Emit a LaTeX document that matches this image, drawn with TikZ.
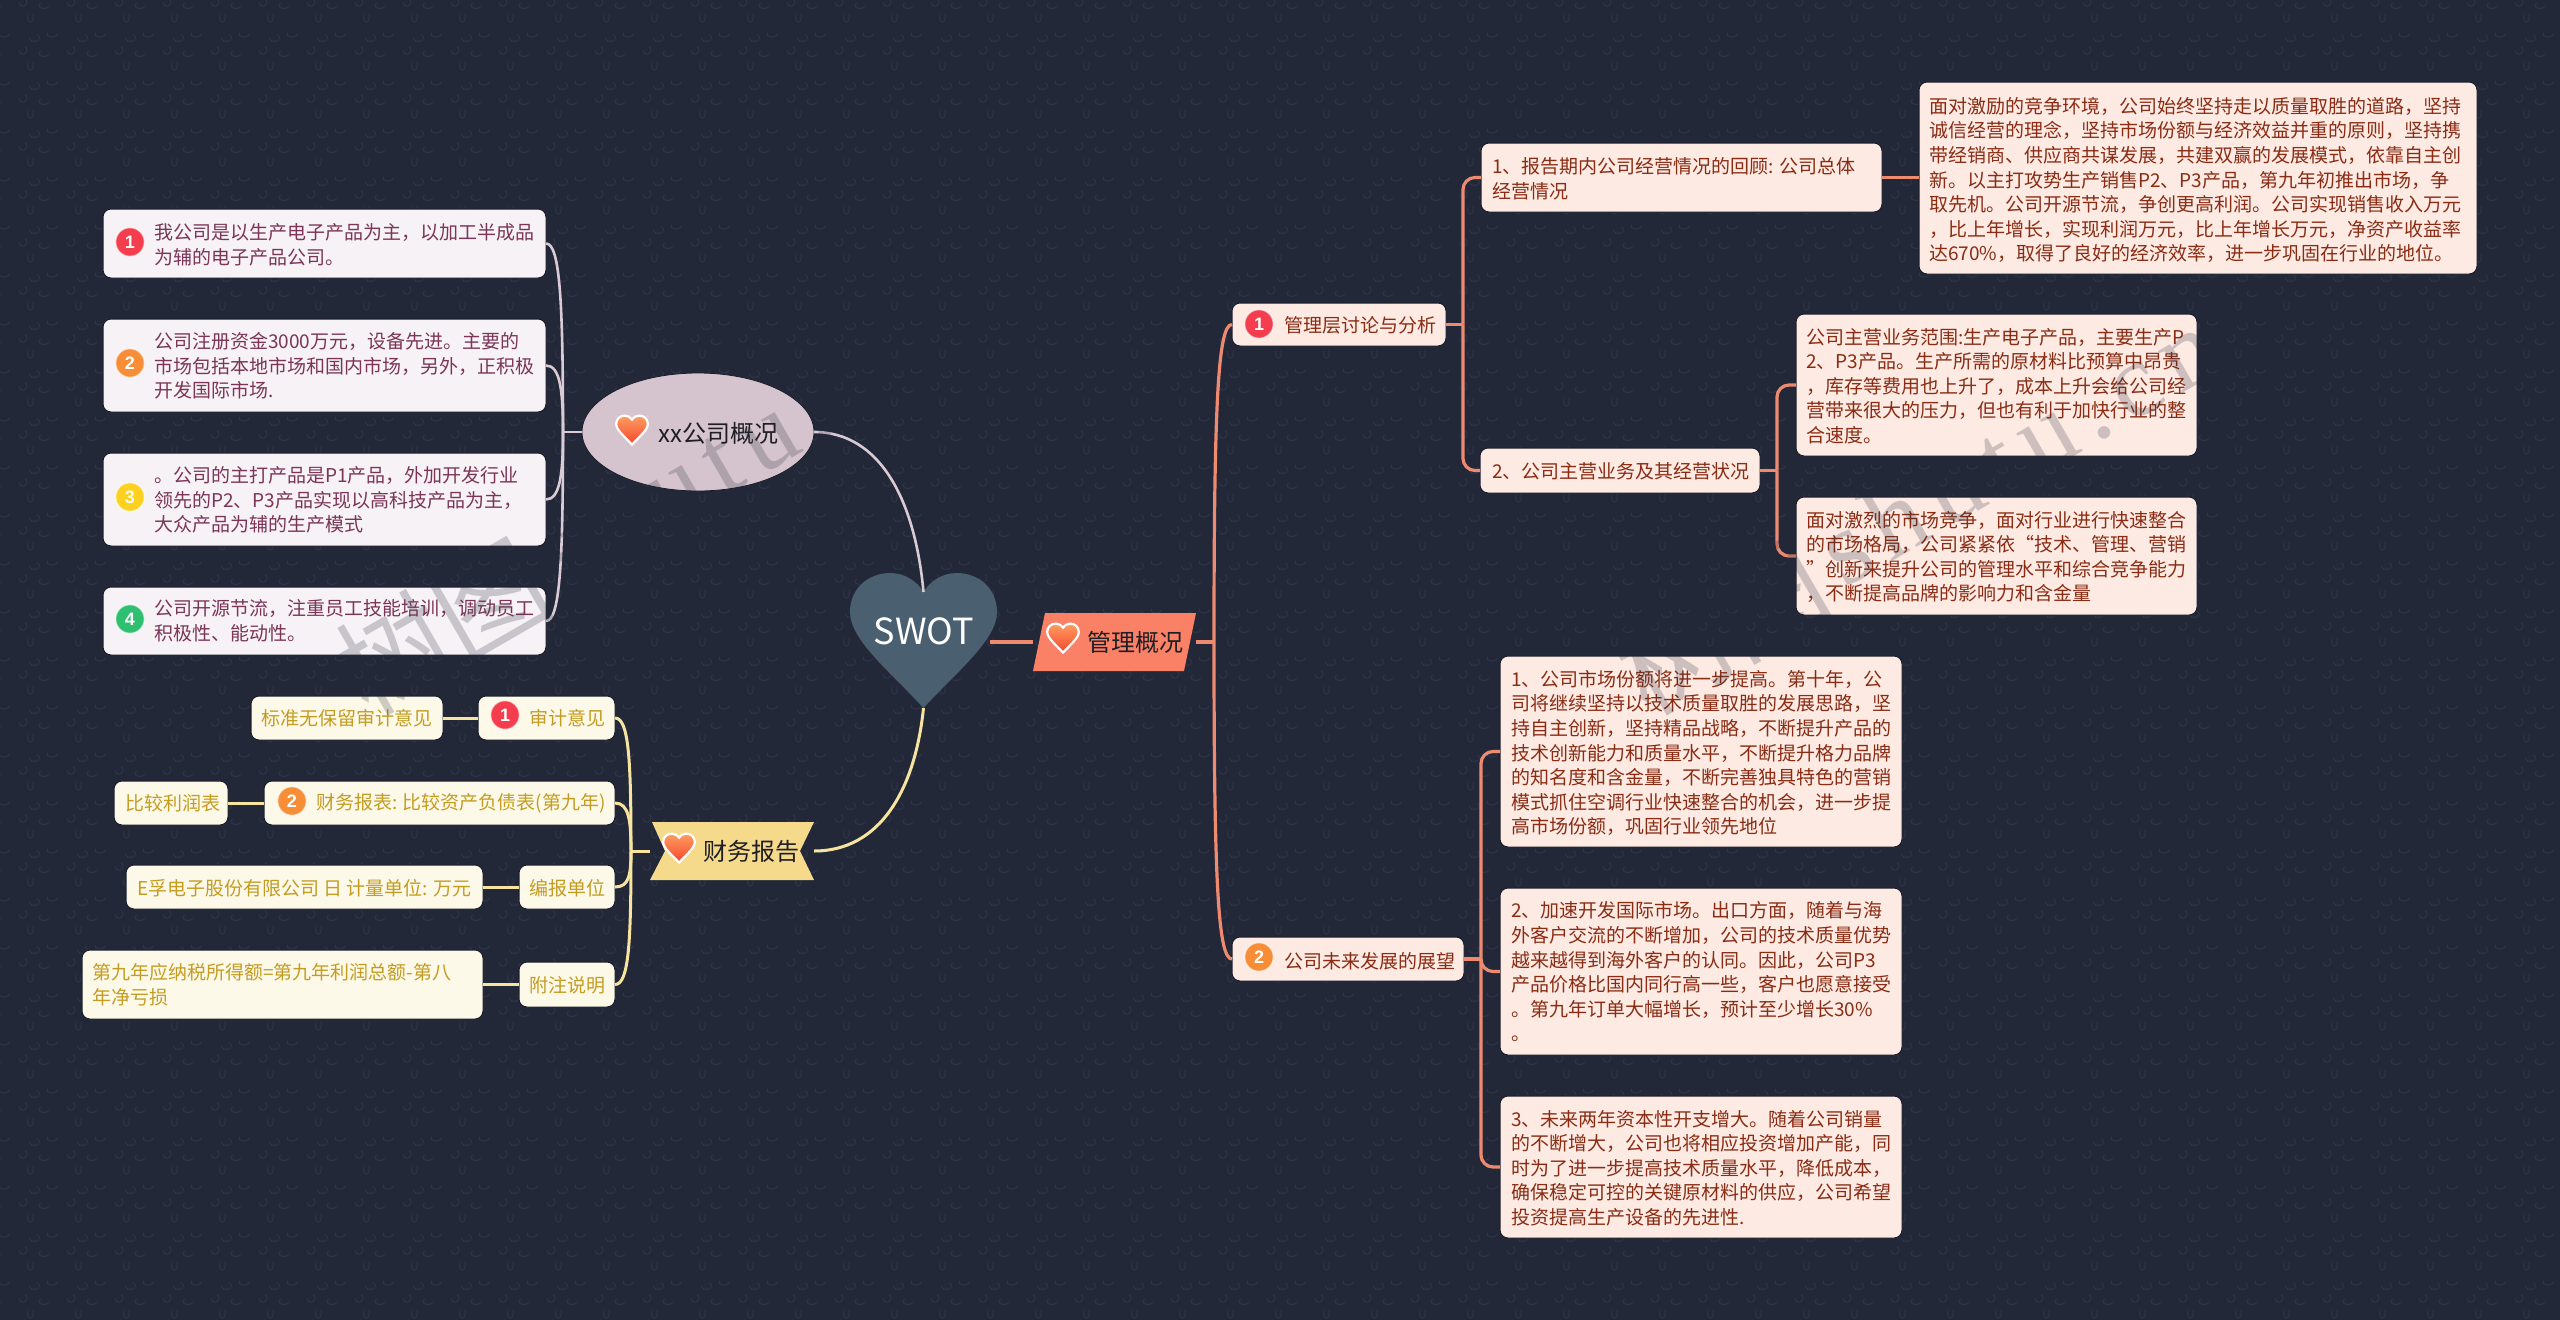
\documentclass[tikz,border=0pt]{standalone}
\usepackage{fontspec}
\setmainfont{Noto Sans CJK SC}
\newfontfamily\numfont{Liberation Sans}
\newfontfamily\wmfont[LetterSpace=12]{Liberation Serif}
\usetikzlibrary{shapes.geometric,calc}
\definecolor{bgc}{HTML}{232839}
\definecolor{bgm}{HTML}{2E3447}
\definecolor{edgec}{HTML}{191C2A}
\definecolor{lbox}{HTML}{F6F2F5}
\definecolor{ltxt}{HTML}{7C3558}
\definecolor{lline}{HTML}{D9CAD3}
\definecolor{lmain}{HTML}{D5C4CD}
\definecolor{fbox}{HTML}{FDF9E8}
\definecolor{ftxt}{HTML}{C49C22}
\definecolor{fline}{HTML}{F6E4A0}
\definecolor{fmain}{HTML}{F5DA8C}
\definecolor{rbox}{HTML}{FDEAE3}
\definecolor{rtxt}{HTML}{8A2C14}
\definecolor{rline}{HTML}{EE8A70}
\definecolor{rmain}{HTML}{FB8166}
\definecolor{corec}{HTML}{4A5F6F}
\definecolor{darktxt}{HTML}{1E1E24}
\definecolor{nred}{HTML}{F43E4E}
\definecolor{norange}{HTML}{F78D36}
\definecolor{nyellow}{HTML}{FCD11F}
\definecolor{ngreen}{HTML}{2FBF71}
\definecolor{htop}{HTML}{FF9E62}
\definecolor{hbot}{HTML}{F5452C}
\tikzset{
  boxbase/.style={rectangle,rounded corners=8pt,draw=edgec,line width=1pt,inner sep=0pt,outer sep=0pt},
  lb/.style={boxbase,fill=lbox},
  fb/.style={boxbase,fill=fbox},
  rb/.style={boxbase,fill=rbox},
  tx/.style={anchor=west,inner sep=0pt,outer sep=0pt,align=left,font=\fontsize{19}{24.6}\selectfont},
  ltx/.style={tx,text=ltxt},
  ftx/.style={tx,text=ftxt},
  rtx/.style={tx,text=rtxt},
  maintx/.style={anchor=west,inner sep=0pt,font=\fontsize{24}{28}\selectfont,text=darktxt},
  ll/.style={draw=lline,line width=2.6pt},
  fl/.style={draw=fline,line width=3pt},
  rl/.style={draw=rline,line width=3.2pt},
  numc/.style={circle,minimum size=29pt,inner sep=0pt,draw=white,draw opacity=.65,line width=1.6pt,text=white,font=\numfont\bfseries\fontsize{18}{18}\selectfont},
  wm/.style={rotate=30,anchor=base west,inner sep=0pt,text=bgc,text opacity=.22},
}
\newcommand{\bx}[6]{\node[#6,minimum width={#4-#2},minimum height={#5-#3}] (#1) at ({(#2+#4)/2},{(#3+#5)/2}) {};}
\newcommand{\heartpath}{(0,68) .. controls (-33,32) and (-73.5,0) .. (-73.5,-28) .. controls (-73.5,-52) and (-55,-67) .. (-33,-67) .. controls (-18,-67) and (-6,-58) .. (0,-48) .. controls (6,-58) and (18,-67) .. (33,-67) .. controls (55,-67) and (73.5,-52) .. (73.5,-28) .. controls (73.5,0) and (33,32) .. (0,68) -- cycle}
\newcommand{\iconheart}[2]{\begin{scope}[shift={(#1,#2)},scale=.215]\path[draw=white,line width=2.2pt,top color=htop,bottom color=hbot] \heartpath;\end{scope}}
\newcommand{\cv}[4]{\draw[#1] (#2.east) .. controls +(14,0) and +(0,#4) .. (#3);}
\begin{document}
\begin{tikzpicture}[x=1pt,y=-1pt]
\useasboundingbox (0,0) rectangle (2560,1320);
\fill[bgc] (0,0) rectangle (2560,1320);
% background texture
\foreach \i in {-1,...,53}{\foreach \j in {-1,...,27}{
  \draw[bgm,line width=1.1pt]
    ({\i*48+33},{\j*48+14}) arc[start angle=-30,end angle=200,x radius=3,y radius=5.5]
    ({\i*48+9},{\j*48+34}) arc[start angle=0,end angle=200,x radius=5,y radius=3]
    ({\i*48+37},{\j*48+35}) arc[start angle=-60,end angle=180,x radius=5,y radius=3.5]
    ({\i*48+25},{\j*48+46}) arc[start angle=-60,end angle=170,x radius=4,y radius=4.5]
    ({\i*48+49},{\j*48+54}) arc[start angle=10,end angle=230,x radius=5,y radius=3];
}}

% core
\node[minimum width=147pt,minimum height=135pt,inner sep=0pt,outer sep=0pt] (core) at (923.5,640) {};
\begin{scope}[shift={(core.center)}]\fill[corec] \heartpath;\end{scope}
\node[inner sep=0pt,text=white,font=\fontsize{36}{40}\selectfont] (coret) at (924,631) {SWOT};
\coordinate (corein) at (923.5,592);
\coordinate (coreout) at (923.5,708);
\coordinate (coreside) at (990,642);

% main topics
\node[ellipse,fill=lmain,draw=edgec,line width=.8pt,minimum width=232pt,minimum height=118pt,inner sep=0pt,outer sep=0pt] (about) at (698,432) {};
\node[minimum width=164pt,minimum height=58pt,inner sep=0pt,outer sep=0pt] (fin) at (732,851) {};
\fill[fmain] (fin.south west) -- ++(15,-29) -- ($(fin.north west)+(2,0)$) -- (fin.north east) -- ++(-14,29) -- (fin.south east) -- cycle;
\node[minimum width=163pt,minimum height=58pt,inner sep=0pt,outer sep=0pt] (mgmt) at (1114.5,642) {};
\fill[rmain] (mgmt.south west) -- ($(mgmt.north west)+(12,0)$) -- (mgmt.north east) -- ($(mgmt.south east)+(-12,0)$) -- cycle;

% junctions
\coordinate (jl) at (563,432);
\coordinate (jf) at (631,851);
\coordinate (jm) at (1214,642);
\coordinate (j1) at (1463,324.5);
\coordinate (j2) at (1481,959);
\coordinate (j3) at (1777,470.5);

% boxes
\bx{a1}{103}{209}{546}{278}{lb}
\bx{a2}{103}{319}{546}{412}{lb}
\bx{a3}{103}{453}{546}{546}{lb}
\bx{a4}{103}{587}{546}{655}{lb}
\bx{f1}{478}{696}{615}{740}{fb}
\bx{f1x}{251}{696}{443}{740}{fb}
\bx{f2}{264}{781}{615}{825}{fb}
\bx{f2x}{114}{781}{228}{825}{fb}
\bx{f3}{519}{865}{615}{909}{fb}
\bx{f3x}{126}{865}{483}{909}{fb}
\bx{f4}{519}{962}{615}{1007}{fb}
\bx{f4x}{82}{950}{483}{1019}{fb}
\bx{m1}{1232}{303}{1446}{346}{rb}
\bx{m2}{1232}{937}{1464}{981}{rb}
\bx{r1}{1481}{143}{1882}{212}{rb}
\bx{r1x}{1919}{82}{2477}{274}{rb}
\bx{r2}{1480}{448}{1760}{493}{rb}
\bx{r2a}{1796}{314}{2197}{456}{rb}
\bx{r2b}{1796}{497}{2197}{615}{rb}
\bx{s1}{1500}{656}{1902}{847}{rb}
\bx{s2}{1500}{888}{1902}{1055}{rb}
\bx{s3}{1500}{1096}{1902}{1238}{rb}

% connectors
\draw[ll] (about.east) .. controls +(66,0) and (915,500) .. (corein);
\draw[fl] (fin.east) .. controls +(66,0) and (915,790) .. (coreout);
\draw[rl] (coreside) -- (mgmt.west);
\draw[ll] (about.west) -- (jl);
\cv{ll}{a1}{jl}{-130}\cv{ll}{a2}{jl}{-42}\cv{ll}{a3}{jl}{42}\cv{ll}{a4}{jl}{130}
\draw[fl] (fin.west) -- (jf);
\cv{fl}{f1}{jf}{-90}\cv{fl}{f2}{jf}{-30}\cv{fl}{f3}{jf}{24}\cv{fl}{f4}{jf}{90}
\draw[fl] (f1x.east) -- (f1.west);
\draw[fl] (f2x.east) -- (f2.west);
\draw[fl] (f3x.east) -- (f3.west);
\draw[fl] (f4x.east) -- (f4x.east -| f4.west);
\draw[rl] (mgmt.east) -- (jm);
\draw[rl] (jm) .. controls +(0,-240) and (1218,324.5) .. (m1.west);
\draw[rl] (jm) .. controls +(0,240) and (1218,959) .. (m2.west);
\draw[rl] (m1.east) -- (j1);
\draw[rl,rounded corners=12pt] (j1) |- (r1.west);
\draw[rl,rounded corners=12pt] (j1) |- (r2.west);
\draw[rl] (r1.east) -- (r1.east -| r1x.west);
\draw[rl] (r2.east) -- (j3);
\draw[rl,rounded corners=12pt] (j3) |- (r2a.west);
\draw[rl,rounded corners=12pt] (j3) |- (r2b.west);
\draw[rl] (m2.east) -- (j2);
\draw[rl,rounded corners=12pt] (j2) |- (s1.west);
\draw[rl,rounded corners=12pt] (j2) |- (s2.west);
\draw[rl,rounded corners=12pt] (j2) |- (s3.west);

% hearts & main labels
\iconheart{632}{430}
\node[maintx] (aboutt) at (658,433) {xx公司概况};
\iconheart{679}{848}
\node[maintx] (fint) at (703,851) {财务报告};
\iconheart{1063}{638}
\node[maintx] (mgmtt) at (1087,642) {管理概况};

% number icons
\node[numc,fill=nred] (n1) at (130,242) {1};
\node[numc,fill=norange] (n2) at (130,363) {2};
\node[numc,fill=nyellow] (n3) at (130,497) {3};
\node[numc,fill=ngreen] (n4) at (130,619) {4};
\node[numc,fill=nred] (n5) at (505,715) {1};
\node[numc,fill=norange] (n6) at (292,801) {2};
\node[numc,fill=nred] (n7) at (1259,324) {1};
\node[numc,fill=norange] (n8) at (1259,957) {2};

% texts left
\node[ltx] (a1t) at (154,245) {我公司是以生产电子产品为主，以加工半成品\\为辅的电子产品公司。};
\node[ltx] (a2t) at (154,366) {公司注册资金3000万元，设备先进。主要的\\市场包括本地市场和国内市场，另外，正积极\\开发国际市场.};
\node[ltx] (a3t) at (154,500) {。公司的主打产品是P1产品，外加开发行业\\领先的P2、P3产品实现以高科技产品为主，\\大众产品为辅的生产模式};
\node[ltx] (a4t) at (154,621) {公司开源节流，注重员工技能培训，调动员工\\积极性、能动性。};
% texts finance
\node[ftx] (f1xt) at (261,718) {标准无保留审计意见};
\node[ftx] (f1t) at (529,718) {审计意见};
\node[ftx] (f2xt) at (125,803) {比较利润表};
\node[ftx] (f2t) at (316,803) {财务报表: 比较资产负债表(第九年)};
\node[ftx] (f3xt) at (137,888) {E孚电子股份有限公司 日 计量单位: 万元};
\node[ftx] (f3t) at (529,888) {编报单位};
\node[ftx] (f4xt) at (92,985) {第九年应纳税所得额=第九年利润总额-第八\\年净亏损};
\node[ftx] (f4t) at (529,985) {附注说明};
% texts right
\node[rtx] (m1t) at (1284,325) {管理层讨论与分析};
\node[rtx] (m2t) at (1284,961) {公司未来发展的展望};
\node[rtx] (r1t) at (1492,179) {1、报告期内公司经营情况的回顾: 公司总体\\经营情况};
\node[rtx] (r1xt) at (1929,180) {面对激励的竞争环境，公司始终坚持走以质量取胜的道路，坚持\\诚信经营的理念，坚持市场份额与经济效益并重的原则，坚持携\\带经销商、供应商共谋发展，共建双赢的发展模式，依靠自主创\\新。以主打攻势生产销售P2、P3产品，第九年初推出市场，争\\取先机。公司开源节流，争创更高利润。公司实现销售收入万元\\，比上年增长，实现利润万元，比上年增长万元，净资产收益率\\达670\%，取得了良好的经济效率，进一步巩固在行业的地位。};
\node[rtx] (r2t) at (1492,471) {2、公司主营业务及其经营状况};
\node[rtx] (r2at) at (1806,386) {公司主营业务范围:生产电子产品，主要生产P\\2、P3产品。生产所需的原材料比预算中昂贵\\，库存等费用也上升了，成本上升会给公司经\\营带来很大的压力，但也有利于加快行业的整\\合速度。};
\node[rtx] (r2bt) at (1806,557) {面对激烈的市场竞争，面对行业进行快速整合\\的市场格局，公司紧紧依“技术、管理、营销\\”创新来提升公司的管理水平和综合竞争能力\\，不断提高品牌的影响力和含金量};
\node[rtx] (s1t) at (1511,753) {1、公司市场份额将进一步提高。第十年，公\\司将继续坚持以技术质量取胜的发展思路，坚\\持自主创新，坚持精品战略，不断提升产品的\\技术创新能力和质量水平，不断提升格力品牌\\的知名度和含金量，不断完善独具特色的营销\\模式抓住空调行业快速整合的机会，进一步提\\高市场份额，巩固行业领先地位};
\node[rtx] (s2t) at (1511,972) {2、加速开发国际市场。出口方面，随着与海\\外客户交流的不断增加，公司的技术质量优势\\越来越得到海外客户的认同。因此，公司P3\\产品价格比国内同行高一些，客户也愿意接受\\。第九年订单大幅增长，预计至少增长30\%\\。};
\node[rtx] (s3t) at (1511,1168) {3、未来两年资本性开支增大。随着公司销量\\的不断增大，公司也将相应投资增加产能，同\\时为了进一步提高技术质量水平，降低成本，\\确保稳定可控的关键原材料的供应，公司希望\\投资提高生产设备的先进性.};

% watermark
\foreach \dx/\k in {0/a,1279/b}{
  \node[wm,font=\fontsize{110}{112}\selectfont] (wm1\k) at ({368+\dx},718) {树图};
  \node[wm,font=\wmfont\fontsize{105}{110}\selectfont] (wm2\k) at ({565+\dx},589) {shutu.cn};
}
\end{tikzpicture}
\end{document}
